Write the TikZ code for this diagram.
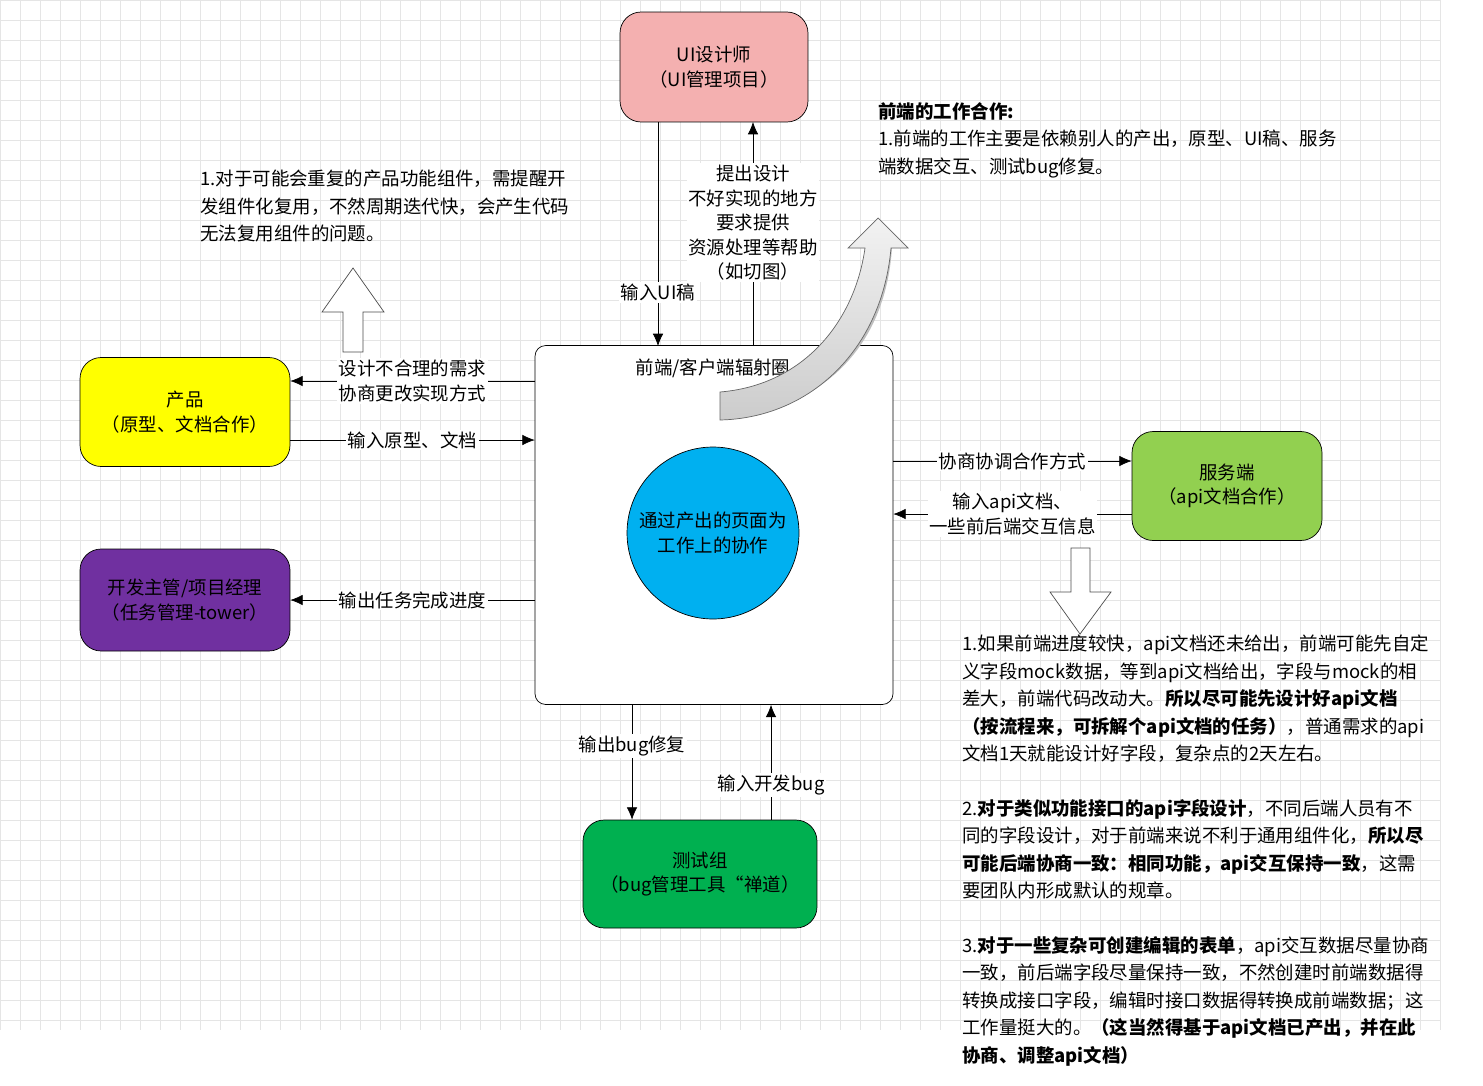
\documentclass[tikz,border=0pt]{standalone}
\usepackage{fontspec}
\setmainfont{Noto Sans CJK SC}
\usetikzlibrary{positioning,arrows.meta}
\definecolor{uipink}{HTML}{F4B0B0}
\definecolor{prodyellow}{HTML}{FFFF00}
\definecolor{mgrpurple}{HTML}{7030A0}
\definecolor{apigreen}{HTML}{92D050}
\definecolor{testgreen}{HTML}{00B050}
\definecolor{circblue}{HTML}{00B0F0}
\tikzset{
  role/.style={draw=black, rounded corners=12pt, align=center, font=\fontsize{10.5}{14}\selectfont},
  flow/.style={-{Latex[length=7pt,width=6pt]}, thin},
  lbl/.style={fill=white, inner sep=1pt, align=center, font=\fontsize{10.5}{14}\selectfont},
  note/.style={align=left, anchor=north west, font=\fontsize{10.5}{15.6}\selectfont, inner sep=0pt},
  fat/.style={draw=black!70, fill=white, thin}
}
\begin{document}
\begin{tikzpicture}[x=0.02cm, y=-0.02cm]
    \useasboundingbox (0,0) rectangle (1483,1085);
    % Grid background
    \draw[black!10, very thin, step=0.4cm] (0,0) grid (1440,1030);

    % Roles
    \node[role, fill=uipink, minimum width=3.76cm, minimum height=2.2cm] (ui) at (714,67) {UI设计师\\（UI管理项目）};
    \node[role, fill=prodyellow, minimum width=4.2cm, minimum height=2.18cm] (prod) at (185,412) {产品\\（原型、文档合作）};
    \node[role, fill=mgrpurple, minimum width=4.2cm, minimum height=2.04cm] (mgr) at (185,600) {开发主管/项目经理\\（任务管理-tower）};
    \node[role, fill=apigreen, minimum width=3.8cm, minimum height=2.18cm] (api) at (1227,486) {服务端\\（api文档合作）};
    \node[role, fill=testgreen, minimum width=4.68cm, minimum height=2.16cm] (test) at (700,874) {测试组\\（bug管理工具“禅道）};
    \node[draw=black, rounded corners=6pt, fill=white, minimum width=7.16cm, minimum height=7.18cm] (fe) at (714,525) {};
    \node[font=\fontsize{10.5}{14}\selectfont] (felbl) at (713,368) {前端/客户端辐射圈};
    \node[circle, draw=black, fill=circblue, minimum size=3.44cm, align=center, font=\fontsize{10.5}{14}\selectfont] (core) at (713,533) {通过产出的页面为\\工作上的协作};

    % Curved fat arrow
    \fill[black!25] (720,420) .. controls (815,405) and (860,330) .. (868,248) -- (850,248) -- (880,220) -- (908,248) -- (892,248)
      .. controls (885,350) and (820,410) .. (720,420) -- cycle;
    \shade[top color=black!5, bottom color=black!20, draw=black!60] (720,392) .. controls (805,385) and (855,320) .. (865,248) -- (848,248) -- (878,218) -- (908,248) -- (891,248)
      .. controls (882,350) and (810,418) .. (720,420) -- cycle;

    % Connectors
    \coordinate (uiL) at (658,122); \coordinate (feT1) at (658,346);
    \coordinate (uiR) at (753,122); \coordinate (feT2) at (753,346);
    \draw[flow] (uiL) -- (feT1) node[lbl, pos=0.76] {输入UI稿};
    \draw[flow] (feT2) -- (uiR) node[lbl, pos=0.55] {提出设计\\不好实现的地方\\要求提供\\资源处理等帮助\\（如切图）};
    \draw[flow] (fe.west |- 0,381) -- (prod.east |- 0,381) node[lbl, midway] {设计不合理的需求\\协商更改实现方式};
    \draw[flow] (prod.east |- 0,440) -- (fe.west |- 0,440) node[lbl, midway] {输入原型、文档};
    \draw[flow] (fe.west |- mgr) -- (mgr) node[lbl, midway] {输出任务完成进度};
    \draw[flow] (fe.east |- 0,461) -- (api.west |- 0,461) node[lbl, midway] {协商协调合作方式};
    \draw[flow] (api.west |- 0,514) -- (fe.east |- 0,514) node[lbl, midway] {输入api文档、\\一些前后端交互信息};
    \draw[flow] (fe.south -| 632,0) -- (test.north -| 632,0) node[lbl, pos=0.36] {输出bug修复};
    \draw[flow] (test.north -| 771,0) -- (fe.south -| 771,0) node[lbl, pos=0.3] {输入开发bug};

    % Fat arrows
    \draw[fat] (343,352) -- (343,312) -- (322,312) -- (353,268) -- (384,312) -- (363,312) -- (363,352) -- cycle;
    \draw[fat] (1071,548) -- (1071,592) -- (1050,592) -- (1080,634) -- (1111,592) -- (1090,592) -- (1090,548) -- cycle;

    % Notes
    \node[note] (notea) at (200,170) {1.对于可能会重复的产品功能组件，需提醒开\\发组件化复用，不然周期迭代快，会产生代码\\无法复用组件的问题。};
    \node[note] (noteb) at (878,102) {\textbf{前端的工作合作:}\\1.前端的工作主要是依赖别人的产出，原型、UI稿、服务\\端数据交互、测试bug修复。};
    \node[note] (notec) at (962,635) {1.如果前端进度较快，api文档还未给出，前端可能先自定\\义字段mock数据，等到api文档给出，字段与mock的相\\差大，前端代码改动大。\textbf{所以尽可能先设计好api文档}\\\textbf{（按流程来，可拆解个api文档的任务）}，普通需求的api\\文档1天就能设计好字段，复杂点的2天左右。\\[15.6pt]2.\textbf{对于类似功能接口的api字段设计}，不同后端人员有不\\同的字段设计，对于前端来说不利于通用组件化，\textbf{所以尽}\\\textbf{可能后端协商一致：相同功能，api交互保持一致}，这需\\要团队内形成默认的规章。\\[15.6pt]3.\textbf{对于一些复杂可创建编辑的表单}，api交互数据尽量协商\\一致，前后端字段尽量保持一致，不然创建时前端数据得\\转换成接口字段，编辑时接口数据得转换成前端数据；这\\工作量挺大的。\textbf{（这当然得基于api文档已产出，并在此}\\\textbf{协商、调整api文档）}};
\end{tikzpicture}
\end{document}
